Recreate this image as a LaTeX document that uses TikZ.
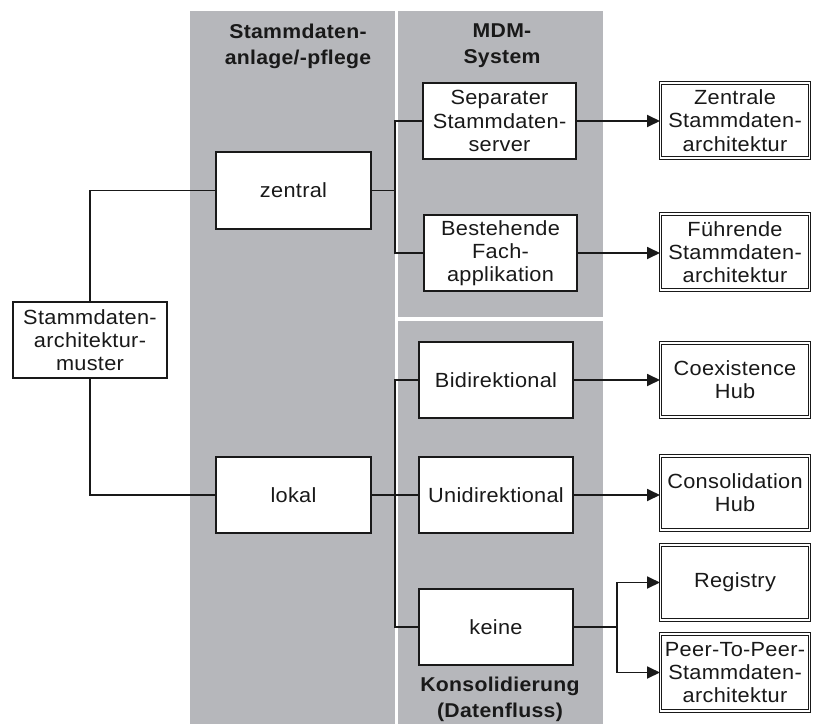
\documentclass[tikz,border=0pt]{standalone}
\usepackage{fontspec}
\setmainfont{Liberation Sans}[FakeStretch=1.06, LetterSpace=1.5]
\usetikzlibrary{arrows.meta}
\definecolor{lane}{RGB}{182,183,187}
\definecolor{ink}{RGB}{25,25,25}
\tikzset{
  every node/.style={text=ink},
  txt/.style={font=\fontsize{20.5}{23.3}\selectfont, align=center},
  head/.style={font=\fontsize{20}{26}\selectfont\bfseries, align=center},
  box/.style={txt, draw=ink, fill=white, line width=1.8pt, inner sep=0pt},
  endbox/.style={txt, draw=ink, fill=white, line width=1pt, double=white,
    double distance=1.6pt, inner sep=0pt, minimum width=149pt},
  link/.style={draw=ink, line width=1.8pt},
  arrowlink/.style={link, -{Triangle[length=13pt,width=12pt]}}
}
\begin{document}
\begin{tikzpicture}[x=1pt,y=-1pt]
\useasboundingbox (0,0) rectangle (814,725);
% lanes
\fill[lane] (190,11) rectangle (395,724);
\fill[lane] (398,11) rectangle (603,317);
\fill[lane] (398,321) rectangle (603,724);
% lane headings
\node[head] (hA) at (298,46) {Stammdaten-\\anlage/-pflege};
\node[head] (hB) at (502,46) {MDM-\\System};
\node[head] (hC) at (500,699) {Konsolidierung\\(Datenfluss)};
% root and first level
\node[box, minimum width=154pt, minimum height=76pt] (root) at (90,340) {Stammdaten-\\architektur-\\muster};
\node[box, minimum width=155pt, minimum height=77pt] (zen) at (293.5,190.5) {zentral};
\node[box, minimum width=155pt, minimum height=76pt] (lok) at (293.5,495) {lokal};
% second level
\node[box, minimum width=153pt, minimum height=76pt] (sep) at (499.5,121) {Separater\\Stammdaten-\\server};
\node[box, minimum width=153pt, minimum height=76pt] (best) at (500.5,253) {Bestehende\\Fach-\\applikation};
\node[box, minimum width=154pt, minimum height=76pt] (bidi) at (496,380) {Bidirektional};
\node[box, minimum width=154pt, minimum height=76pt] (uni) at (496,495) {Unidirektional};
\node[box, minimum width=154pt, minimum height=76pt] (kein) at (496,627) {keine};
% resulting architectures
\node[endbox, minimum height=75pt] (zarch) at (735,120.5) {Zentrale\\Stammdaten-\\architektur};
\node[endbox, minimum height=76pt] (farch) at (735,252) {Führende\\Stammdaten-\\architektur};
\node[endbox, minimum height=74pt] (coex) at (735,380) {Coexistence\\Hub};
\node[endbox, minimum height=74pt] (cons) at (735,493) {Consolidation\\Hub};
\node[endbox, minimum height=75pt] (reg) at (735,582.5) {Registry};
\node[endbox, minimum height=77pt] (p2p) at (735,672.5) {Peer-To-Peer-\\Stammdaten-\\architektur};
% branch points
\coordinate (jz) at (395,190.5);
\coordinate (jl) at (395,495);
\coordinate (jk) at (617,627);
% connectors
\draw[link] (root.north) |- (zen.west);
\draw[link] (root.south) |- (lok.west);
\draw[link] (zen.east) -- (jz);
\draw[link] (jz) |- (sep.west);
\draw[link] (jz) |- (best.west);
\draw[link] (lok.east) -- (jl);
\draw[link] (jl) |- (bidi.west);
\draw[link] (jl) -- (uni.west);
\draw[link] (jl) |- (kein.west);
\draw[arrowlink] (sep.east) -- (sep.east -| zarch.west);
\draw[arrowlink] (best.east) -- (best.east -| farch.west);
\draw[arrowlink] (bidi.east) -- (bidi.east -| coex.west);
\draw[arrowlink] (uni.east) -- (uni.east -| cons.west);
\draw[link] (kein.east) -- (jk);
\draw[arrowlink] (jk) |- (reg.west);
\draw[arrowlink] (jk) |- (p2p.west);
\end{tikzpicture}
\end{document}
